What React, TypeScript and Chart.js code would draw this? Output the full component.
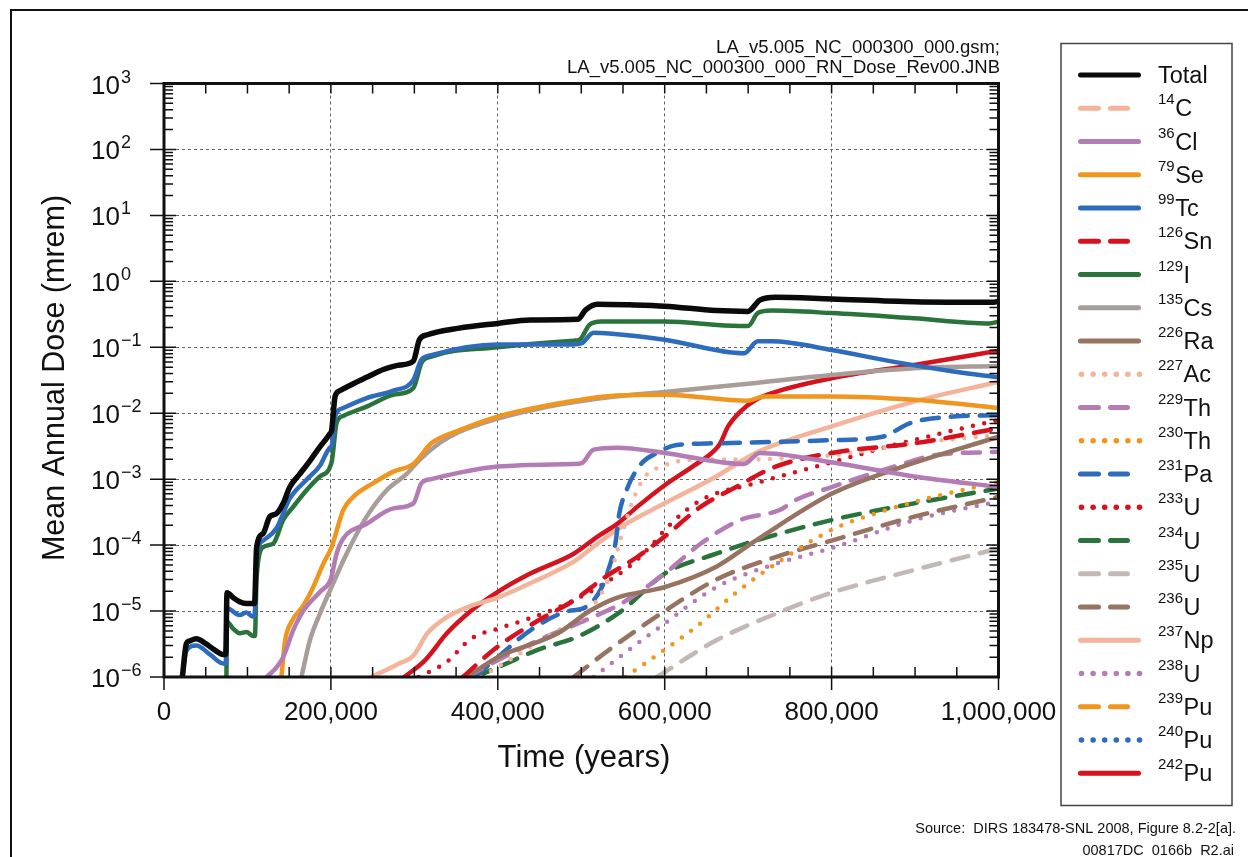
import React, { useEffect, useRef } from "react";
import { Chart, registerables } from "chart.js";

Chart.register(...registerables);

const FONT = '"Liberation Sans", Arial, Helvetica, sans-serif';

// Axis ticks
const X_TICKS = [0, 200000, 400000, 600000, 800000, 1000000];
const X_TICK_LABELS = ["0", "200,000", "400,000", "600,000", "800,000", "1,000,000"];
const X_MINOR_STEP = 50000;
const Y_EXPONENTS = [-6, -5, -4, -3, -2, -1, 0, 1, 2, 3];

// Series: time in thousands of years, mean annual dose in mrem
const TOTAL_T = [22, 26.8, 30, 38.8, 50, 60, 70.8, 74, 75.5, 82.8, 90, 98.8, 106, 108.5, 111, 118.8, 126.8, 134.8, 142.8, 150.8, 162.8, 174.8, 186.8, 198.8, 201, 205, 210.8, 226.8, 242.8, 262.8, 282.8, 298.8, 306, 315.6, 353.5, 400, 438.9, 495.8, 505.3, 519.5, 557.5, 600, 661.8, 699.7, 714, 733, 800, 899, 994, 1000];
const TOTAL_D = [1e-6, 3.2e-6, 3.5e-6, 3.8e-6, 3.2e-6, 2.6e-6, 2.2e-6, 2.2e-6, 1.9e-5, 1.6e-5, 1.4e-5, 1.3e-5, 1.3e-5, 1.3e-5, 9.3e-5, 1.5e-4, 2.7e-4, 3.0e-4, 4.3e-4, 7.6e-4, 1.2e-3, 1.9e-3, 3.1e-3, 4.9e-3, 5.6e-3, 1.8e-2, 2.2e-2, 2.8e-2, 3.5e-2, 4.6e-2, 5.4e-2, 6.2e-2, 0.13, 0.155, 0.195, 0.23, 0.26, 0.266, 0.37, 0.45, 0.44, 0.42, 0.36, 0.35, 0.52, 0.575, 0.54, 0.49, 0.48, 0.5];

const C14_T: number[] = [];
const C14_D: number[] = [];

const CL36_T = [123, 134.8, 142.8, 154.8, 166.8, 186.8, 200, 206.8, 214.8, 242.8, 274.8, 298.8, 308.5, 320.3, 400, 491, 500.5, 514.8, 543.2, 600, 695, 714, 800, 899, 1000];
const CL36_D = [1e-6, 1.4e-6, 2.0e-6, 5.1e-6, 1.0e-5, 1.95e-5, 3.1e-5, 7.4e-5, 1.26e-4, 2.1e-4, 3.6e-4, 4.3e-4, 8.7e-4, 1.0e-3, 1.55e-3, 1.7e-3, 1.75e-3, 2.8e-3, 3.0e-3, 2.5e-3, 1.7e-3, 2.5e-3, 1.8e-3, 1.1e-3, 7.6e-4];

const SE79_T = [140.7, 145, 152.8, 166.8, 178.8, 190.8, 200.8, 214.8, 226.8, 250.8, 274.8, 298.8, 320.3, 353.5, 400, 472, 529, 600, 699.7, 718.7, 800, 899, 1000];
const SE79_D = [1e-6, 3.5e-6, 6.9e-6, 1.2e-5, 2.3e-5, 5.2e-5, 9.3e-5, 3.4e-4, 5.4e-4, 8.7e-4, 1.3e-3, 1.7e-3, 3.5e-3, 5.5e-3, 8.9e-3, 1.4e-2, 1.8e-2, 1.9e-2, 1.55e-2, 1.8e-2, 1.8e-2, 1.6e-2, 1.2e-2];

const TC99_T = [22, 26.8, 38.8, 55, 70.8, 74, 75.5, 90.8, 98.8, 106, 108.5, 111, 118.8, 134.8, 150.8, 170.8, 186.8, 198.8, 201, 205, 214.8, 242.8, 274.8, 298.8, 308.5, 320.3, 400, 491, 500.5, 514.8, 533.7, 600, 695, 711.6, 728, 800, 875, 946, 1000];
const TC99_D = [1e-6, 2.5e-6, 3.0e-6, 2.2e-6, 1.6e-6, 1.6e-6, 1.1e-5, 8.7e-6, 9.5e-6, 8.3e-6, 8.5e-6, 6.6e-5, 1.17e-4, 1.8e-4, 5.1e-4, 9.8e-4, 1.6e-3, 3.0e-3, 3.2e-3, 8.9e-3, 1.2e-2, 1.7e-2, 2.2e-2, 3.2e-2, 6.5e-2, 7.6e-2, 0.11, 0.11, 0.115, 0.166, 0.162, 0.13, 0.081, 0.123, 0.123, 0.091, 0.06, 0.043, 0.035];

const SN126_T = [358, 400, 448.4, 491, 529, 567, 600, 643, 685.5, 733, 800, 899, 1000];
const SN126_D = [1e-6, 2.9e-6, 7.2e-6, 1.45e-5, 3.3e-5, 6.6e-5, 1.35e-4, 3.8e-4, 7.6e-4, 1.55e-3, 2.5e-3, 3.5e-3, 5.9e-3];

const I129_T = [74.8, 75.5, 82.8, 90.8, 98.8, 106.8, 109, 111, 118.8, 130.8, 142.8, 154.8, 170.8, 186.8, 200.8, 206.8, 214.8, 242.8, 274.8, 298.8, 308.5, 320.3, 400, 491, 498, 510, 524, 600, 690, 700, 711.6, 728, 800, 899, 989, 1000];
const I129_D = [1e-6, 6.9e-6, 5.4e-6, 4.6e-6, 4.8e-6, 4.2e-6, 4.2e-6, 3.3e-5, 9.3e-5, 1.05e-4, 2.4e-4, 3.8e-4, 6.8e-4, 1.1e-3, 1.8e-3, 7.1e-3, 9.1e-3, 1.26e-2, 1.9e-2, 2.4e-2, 5.8e-2, 7.2e-2, 0.1, 0.126, 0.13, 0.22, 0.245, 0.245, 0.21, 0.21, 0.33, 0.36, 0.33, 0.275, 0.23, 0.245];

const CS135_T = [164.7, 174.8, 186.8, 200, 218.8, 242.8, 266.8, 290.8, 306, 329.8, 353.5, 400, 448.4, 496, 543.2, 600, 699.7, 800, 899, 1000];
const CS135_D = [1e-6, 3.6e-6, 9.1e-6, 2.2e-5, 7.4e-5, 2.7e-4, 6.8e-4, 1.2e-3, 1.95e-3, 3.5e-3, 5.2e-3, 8.3e-3, 1.17e-2, 1.5e-2, 1.8e-2, 2.1e-2, 2.8e-2, 3.8e-2, 4.8e-2, 5.2e-2];

const RA226_T = [363, 400, 472, 510, 543.2, 600, 661.8, 709, 800, 875, 1000];
const RA226_D = [1e-6, 2.0e-6, 4.6e-6, 1.0e-5, 1.6e-5, 2.3e-5, 4.7e-5, 1.17e-4, 6.0e-4, 1.4e-3, 4.4e-3];

const AC227_T = [380, 424.7, 472, 505.3, 533.7, 548, 562, 576.4, 595.4, 628.6, 699.7, 800, 899, 1000];
const AC227_D = [1e-6, 2.2e-6, 5.1e-6, 9.1e-6, 3.3e-5, 1.35e-4, 4.8e-4, 1.1e-3, 1.55e-3, 1.95e-3, 2.0e-3, 2.3e-3, 3.5e-3, 4.7e-3];

const TH229_T = [363, 400, 448.4, 496, 548, 600, 643, 690.3, 737.7, 756.7, 800, 875, 922.6, 1000];
const TH229_D = [1e-6, 1.8e-6, 3.6e-6, 6.5e-6, 1.3e-5, 3.7e-5, 1.05e-4, 2.4e-4, 3.4e-4, 4.8e-4, 7.6e-4, 1.55e-3, 2.3e-3, 2.6e-3];

const TH230_T = [552.7, 600, 638, 685.5, 733, 800, 851.5, 922.6, 1000];
const TH230_D = [1e-6, 2.6e-6, 5.8e-6, 1.9e-5, 5.2e-5, 1.7e-4, 3.0e-4, 5.4e-4, 9.1e-4];

const PA231_T = [372.5, 400, 438.9, 481.6, 505.3, 524, 533.7, 540.9, 545.6, 555, 571.7, 590.7, 614.4, 661.8, 800, 861, 894.2, 946.4, 1000];
const PA231_D = [1e-6, 2.0e-6, 5.1e-6, 9.8e-6, 1.15e-5, 2.2e-5, 4.7e-5, 1.05e-4, 3.0e-4, 7.2e-4, 1.7e-3, 2.5e-3, 3.3e-3, 3.5e-3, 3.9e-3, 4.4e-3, 7.1e-3, 8.9e-3, 9.3e-3];

const U233_T = [305, 339, 367.7, 400, 438.9, 491, 557, 586, 600, 643, 709.2, 800, 875, 946, 1000];
const U233_D = [1e-6, 1.7e-6, 3.8e-6, 5.4e-6, 7.8e-6, 1.45e-5, 4.7e-5, 1.05e-4, 1.7e-4, 4.8e-4, 8.7e-4, 1.8e-3, 3.3e-3, 5.5e-3, 7.9e-3];

const U234_T = [372.5, 400, 448.4, 496, 548, 600, 661.8, 709, 800, 899, 1000];
const U234_D = [1e-6, 1.4e-6, 2.6e-6, 4.1e-6, 1.0e-5, 3.7e-5, 7.4e-5, 1.17e-4, 2.4e-4, 4.3e-4, 7.2e-4];

const U235_T = [590.7, 661.8, 733, 800, 899, 1000];
const U235_D = [1e-6, 3.6e-6, 9.1e-6, 1.9e-5, 4.2e-5, 8.9e-5];

const U236_T = [491, 533.7, 600, 661.8, 733, 800, 899, 1000];
const U236_D = [1e-6, 2.6e-6, 1.0e-5, 3.0e-5, 6.6e-5, 1.17e-4, 2.7e-4, 5.4e-4];

const NP237_T = [248.6, 282, 298.8, 315.6, 339, 367.7, 400, 448.4, 491, 519.5, 548, 600, 661.8, 709, 800, 899, 1000];
const NP237_D = [1e-6, 1.6e-6, 2.1e-6, 4.6e-6, 8.1e-6, 1.2e-5, 1.6e-5, 3.0e-5, 5.6e-5, 1.05e-4, 1.9e-4, 4.3e-4, 1.1e-3, 2.5e-3, 6.3e-3, 1.5e-2, 3.0e-2];

const U238_T = [514.8, 557.5, 600, 661.8, 733, 800, 899, 1000];
const U238_D = [1e-6, 2.6e-6, 6.5e-6, 2.3e-5, 5.2e-5, 9.0e-5, 2.4e-4, 4.6e-4];

const PU239_T: number[] = [];
const PU239_D: number[] = [];

const PU240_T: number[] = [];
const PU240_D: number[] = [];

const PU242_T = [288, 313, 339, 367.7, 400, 438.9, 491, 519.5, 543.2, 567, 600, 633.4, 659.4, 666.5, 676, 690.3, 709.2, 737.7, 800, 899, 1000];
const PU242_D = [1e-6, 1.8e-6, 4.6e-6, 1.0e-5, 1.95e-5, 3.7e-5, 7.4e-5, 1.35e-4, 2.1e-4, 3.8e-4, 8.1e-4, 1.55e-3, 2.7e-3, 3.5e-3, 6.3e-3, 1.05e-2, 1.6e-2, 2.2e-2, 3.4e-2, 5.4e-2, 8.9e-2];

// Legend labels (mass number as superscript + symbol)
const LABEL_MASS = ["", "14", "36", "79", "99", "126", "129", "135", "226", "227", "229", "230", "231", "233", "234", "235", "236", "237", "238", "239", "240", "242"];
const LABEL_SYMBOL = ["Total", "C", "Cl", "Se", "Tc", "Sn", "I", "Cs", "Ra", "Ac", "Th", "Th", "Pa", "U", "U", "U", "U", "Np", "U", "Pu", "Pu", "Pu"];

const SERIES_T = [TOTAL_T, C14_T, CL36_T, SE79_T, TC99_T, SN126_T, I129_T, CS135_T, RA226_T, AC227_T, TH229_T, TH230_T, PA231_T, U233_T, U234_T, U235_T, U236_T, NP237_T, U238_T, PU239_T, PU240_T, PU242_T];
const SERIES_D = [TOTAL_D, C14_D, CL36_D, SE79_D, TC99_D, SN126_D, I129_D, CS135_D, RA226_D, AC227_D, TH229_D, TH230_D, PA231_D, U233_D, U234_D, U235_D, U236_D, NP237_D, U238_D, PU239_D, PU240_D, PU242_D];

const BLACK = "#0a0a0a";
const SALMON = "#f4b49c";
const PURPLE = "#b47cb4";
const ORANGE = "#f0961e";
const BLUE = "#2d6bbd";
const RED = "#d5121e";
const GREEN = "#2a733a";
const GRAY = "#a89d99";
const BROWN = "#977362";
const LIGHTGRAY = "#c3b8b4";

const COLORS = [BLACK, SALMON, PURPLE, ORANGE, BLUE, RED, GREEN, GRAY, BROWN, SALMON, PURPLE, ORANGE, BLUE, RED, GREEN, LIGHTGRAY, BROWN, SALMON, PURPLE, ORANGE, BLUE, RED];
const KINDS = ["solid", "dash", "solid", "solid", "solid", "dash", "solid", "solid", "solid", "dot", "dash", "dot", "dash", "dot", "dash", "dash", "dash", "solid", "dot", "dash", "dot", "solid"];
const DASHES: Record<string, number[]> = { solid: [], dash: [17, 12], dot: [0, 11.5] };

const decorations = {
  id: "decorations",
  beforeDraw(chart: any) {
    const { ctx, width, height } = chart;
    ctx.save();
    ctx.fillStyle = "#ffffff";
    ctx.fillRect(0, 0, width, height);
    ctx.restore();
  },
  afterDraw(chart: any) {
    const ctx: CanvasRenderingContext2D = chart.ctx;
    const a = chart.chartArea;
    const xs = chart.scales.x;
    const ys = chart.scales.y;
    const ink = "#111111";
    ctx.save();
    ctx.setLineDash([]);

    // outer figure frame (top and left edges)
    ctx.strokeStyle = ink;
    ctx.lineWidth = 2;
    ctx.beginPath();
    ctx.moveTo(11, 857);
    ctx.lineTo(11, 10);
    ctx.lineTo(1248, 10);
    ctx.stroke();

    // plot frame
    ctx.lineWidth = 3;
    ctx.strokeRect(a.left, a.top, a.right - a.left, a.bottom - a.top);

    // tick marks
    ctx.lineWidth = 1.5;
    ctx.lineCap = "butt";
    ctx.beginPath();
    for (let v = 0; v <= 1000000; v += X_MINOR_STEP) {
      const px = xs.getPixelForValue(v);
      const major = X_TICKS.indexOf(v) >= 0;
      ctx.moveTo(px, a.bottom + (major ? 13 : 0));
      ctx.lineTo(px, a.bottom - 10);
      ctx.moveTo(px, a.top);
      ctx.lineTo(px, a.top + 10);
    }
    for (const e of Y_EXPONENTS) {
      const py = ys.getPixelForValue(Math.pow(10, e));
      ctx.moveTo(a.left - 14, py);
      ctx.lineTo(a.left + 12, py);
      ctx.moveTo(a.right - 12, py);
      ctx.lineTo(a.right, py);
      if (e < 3) {
        for (let m = 2; m <= 9; m++) {
          const pm = ys.getPixelForValue(m * Math.pow(10, e));
          ctx.moveTo(a.left, pm);
          ctx.lineTo(a.left + 9, pm);
          ctx.moveTo(a.right - 9, pm);
          ctx.lineTo(a.right, pm);
        }
      }
    }
    ctx.stroke();

    ctx.fillStyle = ink;
    ctx.textBaseline = "alphabetic";

    // y tick labels: 10 with superscript exponent
    for (const e of Y_EXPONENTS) {
      const py = ys.getPixelForValue(Math.pow(10, e));
      ctx.font = `26px ${FONT}`;
      ctx.textAlign = "left";
      ctx.fillText("10", 91, py + 10);
      const w = ctx.measureText("10").width;
      ctx.font = `18px ${FONT}`;
      ctx.fillText(e < 0 ? "\u2212" + Math.abs(e) : String(e), 91 + w + 1, py - 1);
    }

    // x tick labels
    ctx.font = `26px ${FONT}`;
    ctx.textAlign = "center";
    X_TICKS.forEach((v, i) => {
      ctx.fillText(X_TICK_LABELS[i], xs.getPixelForValue(v), a.bottom + 43);
    });

    // axis titles
    ctx.font = `31px ${FONT}`;
    ctx.fillText("Time (years)", 584, 767);
    ctx.save();
    ctx.translate(64, 378);
    ctx.rotate(-Math.PI / 2);
    ctx.font = `30.5px ${FONT}`;
    ctx.textAlign = "center";
    ctx.fillText("Mean Annual Dose (mrem)", 0, 0);
    ctx.restore();

    // file annotation
    ctx.font = `18.5px ${FONT}`;
    ctx.textAlign = "right";
    ctx.fillText("LA_v5.005_NC_000300_000.gsm;", a.right + 1.5, 52.5);
    ctx.fillText("LA_v5.005_NC_000300_000_RN_Dose_Rev00.JNB", a.right + 1.5, 73);

    // source notes
    ctx.font = `14.5px ${FONT}`;
    ctx.fillText("Source:  DIRS 183478-SNL 2008, Figure 8.2-2[a].", 1236, 833);
    ctx.fillText("00817DC_0166b_R2.ai", 1234, 855);

    // legend box
    ctx.strokeStyle = "#444";
    ctx.lineWidth = 1.5;
    ctx.strokeRect(1061, 43.5, 171, 762);

    chart.data.datasets.forEach((ds: any, i: number) => {
      const y = 75 + i * 33.25;
      const kind = KINDS[i];
      ctx.strokeStyle = ds.borderColor;
      ctx.fillStyle = ds.borderColor;
      ctx.lineWidth = 5;
      ctx.lineCap = "round";
      ctx.setLineDash([]);
      if (kind === "solid") {
        ctx.beginPath();
        ctx.moveTo(1080.5, y);
        ctx.lineTo(1138.5, y);
        ctx.stroke();
      } else if (kind === "dash") {
        ctx.beginPath();
        ctx.moveTo(1080.5, y);
        ctx.lineTo(1098.5, y);
        ctx.moveTo(1110.5, y);
        ctx.lineTo(1127.5, y);
        ctx.stroke();
      } else {
        for (let k = 0; k < 6; k++) {
          ctx.beginPath();
          ctx.arc(1081.5 + k * 11.6, y, 2.8, 0, Math.PI * 2);
          ctx.fill();
        }
      }
      ctx.fillStyle = ink;
      ctx.textAlign = "left";
      const mass = LABEL_MASS[i];
      let tx = 1158;
      if (mass) {
        ctx.font = `15px ${FONT}`;
        ctx.fillText(mass, tx, y - 4);
        tx += ctx.measureText(mass).width + 0.5;
      }
      ctx.font = `23.5px ${FONT}`;
      ctx.fillText(LABEL_SYMBOL[i], tx, y + 8);
    });

    ctx.restore();
  },
};

export default function App() {
  const ref = useRef<HTMLCanvasElement | null>(null);

  useEffect(() => {
    const canvas = ref.current;
    if (!canvas) return;
    const datasets = SERIES_T.map((ts, i) => ({
      label: LABEL_MASS[i] + LABEL_SYMBOL[i],
      data: ts.map((t, j) => ({ x: t * 1000, y: SERIES_D[i][j] })),
      borderColor: COLORS[i],
      backgroundColor: COLORS[i],
      borderWidth: i === 0 ? 5.5 : 4.5,
      borderDash: DASHES[KINDS[i]],
      borderCapStyle: "round",
      borderJoinStyle: "round",
      pointRadius: 0,
      pointHoverRadius: 0,
      fill: false,
      cubicInterpolationMode: "monotone",
      clip: 0,
    }));
    const gridCommon = { color: "#666666", lineWidth: 1, drawTicks: false };
    const chart = new Chart(canvas, {
      type: "line",
      data: { datasets } as any,
      options: {
        animation: false,
        responsive: false,
        devicePixelRatio: 1,
        events: [],
        layout: { padding: { left: 164, right: 249.5, top: 83.5, bottom: 180 } },
        scales: {
          x: {
            type: "linear",
            min: 0,
            max: 1000000,
            ticks: { display: false, stepSize: 200000 },
            grid: gridCommon,
            border: { display: false, dash: [3, 3] },
          },
          y: {
            type: "logarithmic",
            min: 1e-6,
            max: 1e3,
            afterBuildTicks: (s: any) => {
              s.ticks = Y_EXPONENTS.map((e) => ({ value: Math.pow(10, e) }));
            },
            ticks: { display: false },
            grid: gridCommon,
            border: { display: false, dash: [3, 3] },
          },
        },
        plugins: { legend: { display: false }, tooltip: { enabled: false } },
      } as any,
      plugins: [decorations],
    });
    return () => chart.destroy();
  }, []);

  return (
    <canvas
      ref={ref}
      width={1248}
      height={857}
      style={{ position: "absolute", left: 0, top: 0, width: 1248, height: 857 }}
    />
  );
}
